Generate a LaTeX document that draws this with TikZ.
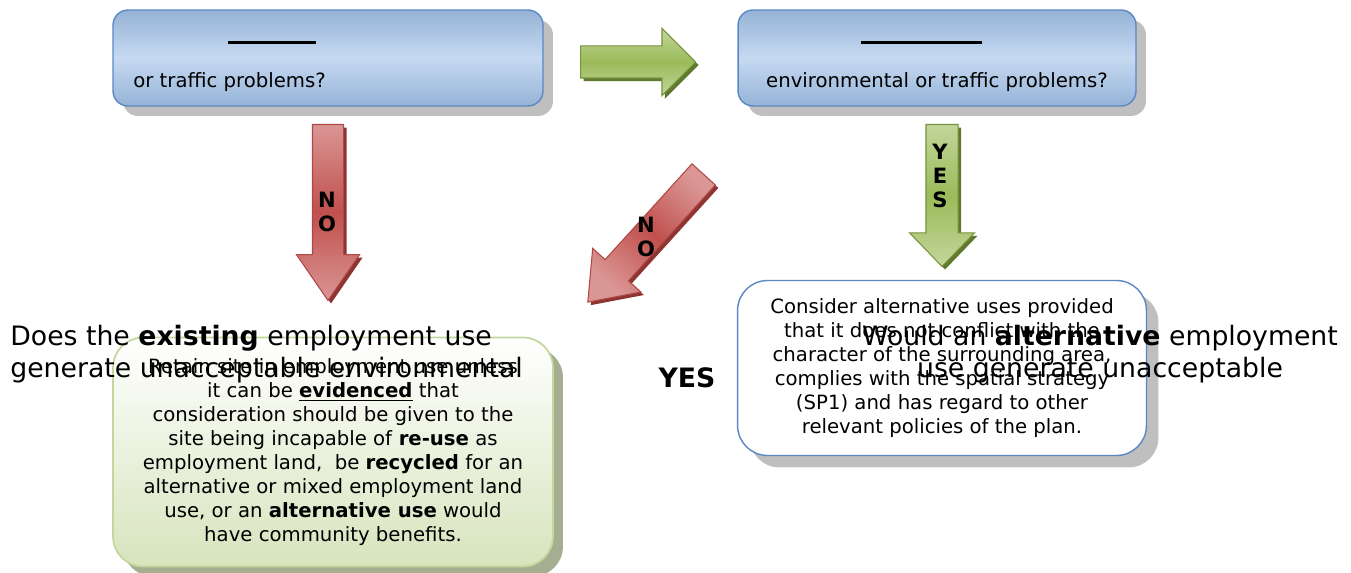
\documentclass[tikz,border=0pt]{standalone}
\usepackage{fontspec}
\setmainfont{DejaVu Sans}
\usetikzlibrary{shapes.arrows,shadows}
\definecolor{qtop}{HTML}{95B3D7}
\definecolor{qmid}{HTML}{C6D9F1}
\definecolor{qborder}{HTML}{5B87C4}
\definecolor{shadowgray}{HTML}{BFBFBF}
\definecolor{redlight}{HTML}{DA9694}
\definecolor{reddark}{HTML}{C0504D}
\definecolor{redborder}{HTML}{B04744}
\definecolor{redshadow}{HTML}{8C3533}
\definecolor{grnlight}{HTML}{C3D69B}
\definecolor{grndark}{HTML}{9BBB59}
\definecolor{grnborder}{HTML}{77933C}
\definecolor{grnshadow}{HTML}{5F7A2E}
\definecolor{retainbot}{HTML}{D7E4BD}
\definecolor{retainshadow}{HTML}{A6AE92}
\begin{document}
\begin{tikzpicture}[x=0.02cm, y=-0.02cm,
    boxtext/.style={font=\fontsize{11.2}{13.66}\selectfont},
    qbox/.style={rectangle, rounded corners=0.3cm, draw=qborder, line width=0.8pt,
        top color=qtop, bottom color=qtop, middle color=qmid, minimum height=1.92cm,
        drop shadow={shadow xshift=0.2cm, shadow yshift=-0.2cm, fill=shadowgray, opacity=1}},
    bar/.style={fill=black, inner sep=0, minimum height=0.06cm},
    redarrow/.style={single arrow, draw=redborder, line width=0.6pt, inner xsep=0, inner ysep=0.3cm,
        top color=redlight, bottom color=redlight, middle color=reddark,
        drop shadow={shadow xshift=0.06cm, shadow yshift=-0.06cm, fill=redshadow, opacity=1}},
    grnarrow/.style={single arrow, draw=grnborder, line width=0.6pt, inner xsep=0, inner ysep=0.31cm,
        top color=grnlight, bottom color=grnlight, middle color=grndark,
        drop shadow={shadow xshift=0.06cm, shadow yshift=-0.06cm, fill=grnshadow, opacity=1}},
    lettr/.style={font=\fontsize{12}{13.66}\selectfont\bfseries, align=center, inner sep=0},
    bigtxt/.style={font=\fontsize{15.2}{18.2}\selectfont, inner sep=0},
]
\useasboundingbox (0,0) rectangle (1351,573);

% question boxes
\node[qbox, minimum width=8.6cm] (q1) at (328,58) {};
\node[bar, minimum width=1.76cm] (q1bar) at (272,43) {};
\node[boxtext, anchor=west, inner sep=0] (q1txt) at (133,82) {or traffic problems?};

\node[qbox, minimum width=7.96cm] (q2) at (937,58) {};
\node[bar, minimum width=2.42cm] (q2bar) at (921,43) {};
\node[boxtext, inner sep=0] (q2txt) at (937,82) {environmental or traffic problems?};

% answer boxes
\node[rectangle, rounded corners=0.6cm, draw=grnlight, line width=1pt,
    top color=white, bottom color=retainbot, minimum width=8.8cm, minimum height=4.58cm,
    drop shadow={shadow xshift=0.2cm, shadow yshift=-0.2cm, fill=retainshadow, opacity=1},
    boxtext, align=center] (retain) at (333,452) {Retain site in employment use unless\\
    it can be \underline{\textbf{evidenced}} that\\
    consideration should be given to the\\
    site being incapable of \textbf{re-use} as\\
    employment land,~ be \textbf{recycled} for an\\
    alternative or mixed employment land\\
    use, or an \textbf{alternative use} would\\
    have community benefits.};

\node[rectangle, rounded corners=0.6cm, draw=qborder, line width=0.8pt, fill=white,
    minimum width=8.18cm, minimum height=3.5cm,
    drop shadow={shadow xshift=0.24cm, shadow yshift=-0.24cm, fill=shadowgray, opacity=1},
    boxtext, align=center] (alt) at (942,368) {Consider alternative uses provided\\
    that it does not conflict with the\\
    character of the surrounding area,\\
    complies with the spatial strategy\\
    (SP1) and has regard to other\\
    relevant policies of the plan.};

% block arrows
\node[grnarrow, anchor=tail, minimum height=2.3cm, minimum width=1.32cm,
    single arrow head extend=0.35cm, single arrow tip angle=90] (go) at (580,62) {};
\node[redarrow, rotate=-90, anchor=tail, minimum height=3.52cm, minimum width=1.24cm,
    single arrow head extend=0.32cm, single arrow tip angle=69] (noA) at (328,124) {};
\node[redarrow, shading angle=-42, rotate=227.8, anchor=tail, minimum height=3.45cm, minimum width=1.3cm,
    single arrow head extend=0.33cm, single arrow tip angle=74] (noB) at (704,174) {};
\node[grnarrow, rotate=-90, anchor=tail, minimum height=2.84cm, minimum width=1.3cm,
    single arrow head extend=0.33cm, single arrow tip angle=88] (yesA) at (942,124) {};

\node[lettr] (noAlbl) at (327,212) {N\\O};
\node[lettr] (noBlbl) at (646,237) {N\\O};
\node[lettr] (yesAlbl) at (940,176) {Y\\E\\S};

% question texts
\node[bigtxt, anchor=west, align=left] (qexist) at (10,354) {Does the \textbf{existing} employment use\\generate unacceptable environmental};
\node[bigtxt, align=center] (qalt) at (1100,354) {Would an \textbf{alternative} employment\\use generate unacceptable};
\node[bigtxt, font=\fontsize{15.2}{18.2}\selectfont\bfseries] (yes) at (687,378) {YES};
\end{tikzpicture}
\end{document}
